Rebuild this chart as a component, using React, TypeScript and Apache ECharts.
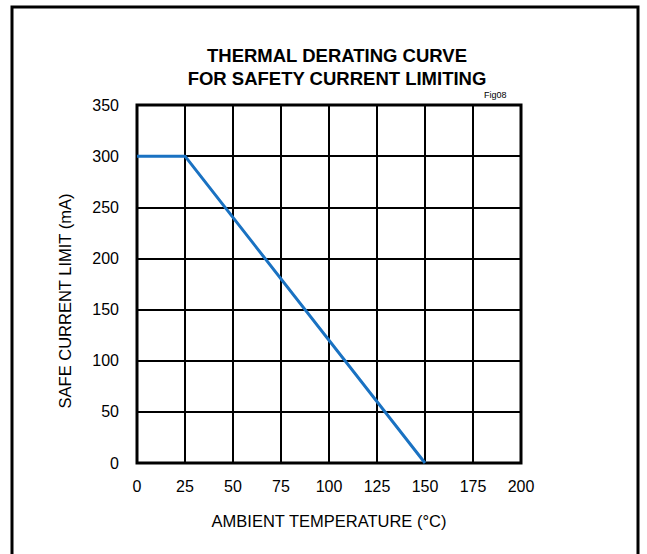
import React, { useEffect, useRef } from "react";
import * as echarts from "echarts";

const titleLines = ["THERMAL DERATING CURVE", "FOR SAFETY CURRENT LIMITING"];
const figTag = "Fig08";
const xAxisName = "AMBIENT TEMPERATURE (°C)";
const yAxisName = "SAFE CURRENT LIMIT (mA)";
const temperatureC = [0, 25, 150];
const currentLimitMA = [300, 300, 0];

const FONT = "'Liberation Sans', Arial, sans-serif";

export default function App() {
  const ref = useRef<HTMLDivElement>(null);
  useEffect(() => {
    if (!ref.current) return;
    const chart = echarts.init(ref.current, null, { renderer: "svg" });
    const data = temperatureC.map((t, i) => [t, currentLimitMA[i]]);
    chart.setOption({
      animation: false,
      backgroundColor: "#fff",
      title: {
        text: titleLines.join("\n"),
        left: 332,
        top: 39,
        textAlign: "center",
        textStyle: {
          fontFamily: FONT,
          fontWeight: "bold",
          fontSize: 18.5,
          lineHeight: 23,
          color: "#000",
        },
      },
      grid: {
        left: 137,
        top: 105,
        width: 384,
        height: 358,
        show: true,
        borderColor: "#000",
        borderWidth: 3,
        backgroundColor: "transparent",
      },
      xAxis: {
        type: "value",
        min: 0,
        max: 200,
        interval: 25,
        name: xAxisName,
        nameLocation: "middle",
        nameGap: 49,
        nameTextStyle: { fontFamily: FONT, fontSize: 16.5, color: "#000" },
        axisLine: { show: false },
        axisTick: { show: false },
        axisLabel: { margin: 15, fontFamily: FONT, fontSize: 16, color: "#000" },
        splitLine: { show: true, lineStyle: { color: "#000", width: 2 } },
      },
      yAxis: {
        type: "value",
        min: 0,
        max: 350,
        interval: 50,
        name: yAxisName,
        nameLocation: "middle",
        nameGap: 64,
        nameTextStyle: { fontFamily: FONT, fontSize: 16.5, color: "#000", padding: [0, 34, 0, 0] },
        axisLine: { show: false },
        axisTick: { show: false },
        axisLabel: { margin: 18, fontFamily: FONT, fontSize: 16, color: "#000" },
        splitLine: { show: true, lineStyle: { color: "#000", width: 2 } },
      },
      series: [
        {
          type: "line",
          data,
          symbol: "none",
          lineStyle: { color: "#1a72c2", width: 3 },
          z: 5,
        },
      ],
      graphic: [
        {
          type: "rect",
          shape: { x: 12, y: 7, width: 626, height: 570 },
          style: { fill: "none", stroke: "#000", lineWidth: 3 },
          silent: true,
        },
        {
          type: "text",
          x: 484,
          y: 90,
          style: { text: figTag, fontFamily: FONT, fontSize: 9, fill: "#000" },
        },
      ],
    });
    return () => chart.dispose();
  }, []);
  return (
    <div
      ref={ref}
      style={{ position: "absolute", left: 0, top: 0, width: 647, height: 554 }}
    />
  );
}
